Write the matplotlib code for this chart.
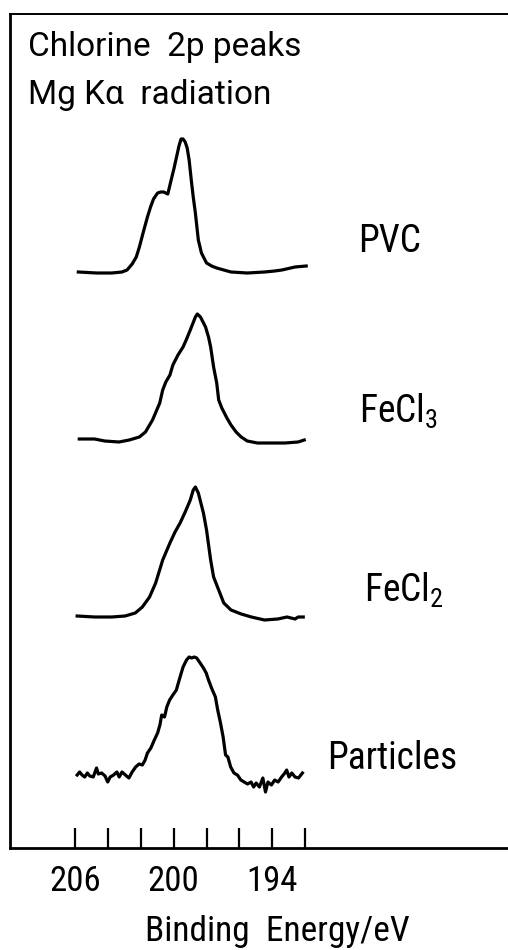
import matplotlib
matplotlib.use("Agg")
import matplotlib.pyplot as plt
from matplotlib import font_manager

# ---------------- data ----------------
pvc_energy = [205.81, 204.70, 203.77, 203.15, 202.84, 202.53, 202.28, 202.09, 201.85, 201.60,
              201.41, 201.23, 200.98, 200.79, 200.61, 200.36, 200.17, 199.99, 199.80, 199.68,
              199.55, 199.43, 199.30, 199.18, 199.06, 198.93, 198.81, 198.68, 198.50, 198.31,
              198.00, 197.69, 197.38, 196.95, 196.51, 195.52, 194.47, 193.85, 193.41, 192.61,
              191.93]
pvc_counts = [1, 0, 0, 1, 3, 9, 16, 26, 41, 56,
              66, 74, 80, 81, 81, 79, 92, 104, 118, 127,
              134, 134, 131, 125, 113, 93, 76, 60, 33, 20,
              10, 7, 5, 3, 1, 0, 1, 2, 3, 6,
              7]

fecl3_energy = [205.75, 204.82, 204.20, 203.33, 202.71, 202.09, 201.72, 201.29, 200.85, 200.67,
                200.48, 200.23, 200.05, 199.74, 199.43, 199.24, 198.99, 198.68, 198.56, 198.37,
                198.06, 197.88, 197.75, 197.57, 197.38, 197.26, 197.07, 196.76, 196.51, 196.20,
                195.89, 195.52, 194.90, 194.03, 193.23, 192.42, 192.05]
fecl3_counts = [4, 4, 2, 1, 3, 6, 11, 23, 40, 53,
                61, 68, 78, 88, 96, 103, 113, 126, 129, 126,
                116, 106, 96, 76, 60, 43, 35, 25, 18, 11,
                6, 2, 0, 0, 0, 1, 3]

fecl2_energy = [205.88, 204.82, 203.77, 202.96, 202.34, 201.91, 201.47, 201.10, 200.67, 200.23,
                199.92, 199.61, 199.30, 198.99, 198.81, 198.68, 198.50, 198.19, 198.00, 197.75,
                197.57, 197.26, 196.95, 196.51, 195.89, 195.27, 194.47, 193.66, 193.10, 192.61,
                192.42, 192.11]
fecl2_counts = [4, 3, 3, 4, 7, 13, 23, 37, 60, 77,
                88, 97, 108, 120, 130, 133, 127, 107, 90, 60,
                43, 30, 17, 10, 6, 3, 0, 1, 3, 1,
                3, 3]

part_energy = [205.88, 205.73, 205.58, 205.42, 205.26, 205.11, 204.90, 204.70, 204.59, 204.39,
               204.18, 204.02, 203.87, 203.66, 203.46, 203.32, 203.15, 202.94, 202.73, 202.53,
               202.32, 202.11, 201.91, 201.74, 201.60, 201.39, 201.18, 200.98, 200.84, 200.73,
               200.56, 200.42, 200.25, 200.05, 199.84, 199.63, 199.43, 199.22, 199.06, 198.91,
               198.75, 198.60, 198.39, 198.19, 198.02, 197.88, 197.67, 197.46, 197.32, 197.15,
               196.99, 196.84, 196.70, 196.53, 196.33, 196.12, 195.91, 195.71, 195.50, 195.29,
               195.13, 194.98, 194.78, 194.57, 194.41, 194.26, 194.05, 193.85, 193.64, 193.43,
               193.23, 193.12, 192.98, 192.81, 192.61, 192.40, 192.16]
part_counts = [15, 18, 15, 13, 17, 14, 13, 22, 16, 17,
               14, 8, 13, 15, 18, 13, 18, 15, 12, 18,
               23, 26, 25, 30, 37, 42, 50, 57, 65, 75,
               73, 83, 90, 95, 100, 112, 123, 130, 133, 132,
               133, 132, 127, 122, 117, 110, 101, 93, 80, 67,
               53, 35, 33, 23, 17, 15, 10, 8, 6, 8,
               3, 7, 3, 12, -2, 8, 5, 10, 8, 13,
               17, 20, 13, 17, 13, 12, 17]

sample_names = ["PVC", "FeCl$_3$", "FeCl$_2$", "Particles"]
offsets = [575, 405, 228, 58]
tick_values = [206, 204, 202, 200, 198, 196, 194, 192]
tick_labels = ["206", "", "", "200", "", "", "194", ""]
title_lines = ["Chlorine  2p peaks", "Mg K\u03b1  radiation"]
x_label = "Binding  Energy/eV"

# ---------------- font ----------------
names = {f.name for f in font_manager.fontManager.ttflist}
family = "DejaVu Sans"
for cand in ["Roboto Condensed", "DejaVu Sans Condensed", "Liberation Sans Narrow", "DejaVu Sans"]:
    if cand in names:
        family = cand
        break
title_family = "Roboto" if "Roboto" in names else family
plt.rcParams["font.family"] = [family, "DejaVu Sans"]
plt.rcParams["mathtext.fontset"] = "custom"
plt.rcParams["mathtext.rm"] = family
plt.rcParams["mathtext.it"] = family

W, H = 508, 950
fig = plt.figure(figsize=(W / 100, H / 100), dpi=100)
ax = fig.add_axes([10 / W, (H - 848) / H, 520 / W, 834 / H])

series = [(pvc_energy, pvc_counts), (fecl3_energy, fecl3_counts),
          (fecl2_energy, fecl2_counts), (part_energy, part_counts)]
for (e, c), off in zip(series, offsets):
    ax.plot(e, [v + off for v in c], color="black", lw=2.3, solid_joinstyle="round")

ax.set_xlim(209.97, 178.3)
ax.set_ylim(0, 834)
ax.set_xticks(tick_values)
ax.set_xticklabels(tick_labels)
ax.set_yticks([])
ax.tick_params(axis="x", direction="in", length=14.5, width=1.6, pad=12,
               labelsize=25, color="black")
for s in ["left", "bottom"]:
    ax.spines[s].set_linewidth(2.0)
ax.spines["top"].set_linewidth(1.4)
ax.spines["right"].set_visible(False)

def fx(px):
    return px / W

def fy(py):
    return (H - py) / H

fig.text(fx(28), fy(56), title_lines[0], fontsize=24, va="baseline", ha="left",
         family=[title_family, "DejaVu Sans"])
fig.text(fx(28), fy(104), title_lines[1], fontsize=24, va="baseline", ha="left",
         family=[title_family, "DejaVu Sans"])

label_pos = [(358, 252), (359, 423), (364, 602), (327, 769)]
for name, (px, py) in zip(sample_names, label_pos):
    fig.text(fx(px), fy(py), name, fontsize=27, va="baseline", ha="left")

fig.text(fx(277), fy(941), x_label, fontsize=25.5, va="baseline", ha="center")

fig.savefig("out.png", dpi=100, facecolor="white")
